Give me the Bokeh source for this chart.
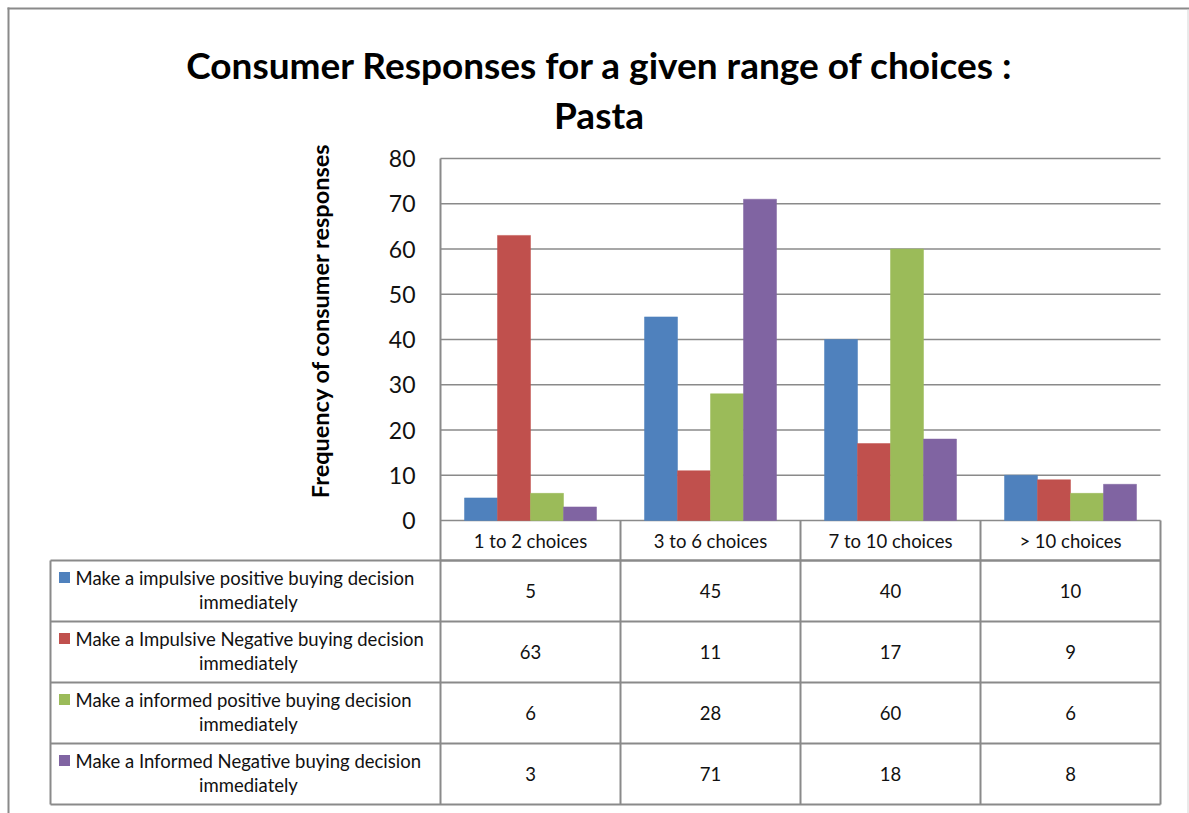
import math
from bokeh.plotting import figure
from bokeh.models import Range1d, ColumnDataSource
from bokeh.core.properties import value
from bokeh.embed import file_html
from bokeh.resources import INLINE

# ---------------- data ----------------
title_lines = ["Consumer Responses for a given range of choices :", "Pasta"]
y_axis_title = "Frequency of consumer responses"
categories = ["1 to 2 choices", "3 to 6 choices", "7 to 10 choices", "> 10 choices"]
series_names = [
    ("Make a impulsive positive buying decision", "immediately"),
    ("Make a Impulsive  Negative buying decision", "immediately"),
    ("Make a informed  positive buying decision", "immediately"),
    ("Make a Informed  Negative buying decision", "immediately"),
]
impulsive_positive = [5, 45, 40, 10]
impulsive_negative = [63, 11, 17, 9]
informed_positive = [6, 28, 60, 6]
informed_negative = [3, 71, 18, 8]
series_values = [impulsive_positive, impulsive_negative, informed_positive, informed_negative]
series_colors = ["#4F81BD", "#C0504D", "#9BBB59", "#8064A2"]
y_ticks = [0, 10, 20, 30, 40, 50, 60, 70, 80]
y_tick_labels = [str(t) for t in y_ticks]

# ---------------- layout geometry (pixels) ----------------
W, H = 1189, 813
PLOT_L, PLOT_R = 440, 1160
PLOT_TOP, ZERO_Y = 158, 520
HEADER_BOTTOM = 560
ROW_H = 61
TABLE_L = 50
FONT = "Lato"
GRID = "#8a8a8a"
TEXT = "#111111"
TABLE_FS = "18.5px"

n_cat = len(categories)
cat_px = (PLOT_R - PLOT_L) / n_cat
val_px = (ZERO_Y - PLOT_TOP) / max(y_ticks)

p = figure(width=W, height=H, output_backend="svg", toolbar_location=None,
           x_axis_type=None, y_axis_type=None,
           x_range=Range1d(0, W), y_range=Range1d(H, 0),
           min_border=0, outline_line_color=None,
           background_fill_color="white", border_fill_color="white")

# library scales for the chart: categories (index units) and values
p.extra_x_ranges = {"cat": Range1d(-PLOT_L / cat_px, (W - PLOT_L) / cat_px)}
p.extra_y_ranges = {"val": Range1d(-(H - ZERO_Y) / val_px, ZERO_Y / val_px)}

# outer chart border
p.segment(x0=[7], y0=[8], x1=[W], y1=[8], line_color="#8a8a8a", line_width=2)
p.segment(x0=[8], y0=[7], x1=[8], y1=[H], line_color="#8a8a8a", line_width=2)
p.segment(x0=[W - 1.5], y0=[9], x1=[W - 1.5], y1=[H], line_color="#d4d4d4", line_width=1)

# title
p.text(x=[W / 2 + 5], y=[64], text=[title_lines[0]], text_font=value(FONT),
       text_font_style="bold", text_font_size="37px", text_align="center",
       text_baseline="alphabetic", text_color="black")
p.text(x=[W / 2 + 4], y=[114], text=[title_lines[1]], text_font=value(FONT),
       text_font_style="bold", text_font_size="37px", text_align="center",
       text_baseline="alphabetic", text_color="black")

# y-axis title
p.text(x=[319], y=[320], text=[y_axis_title], angle=math.pi / 2,
       text_font=value(FONT), text_font_style="bold", text_font_size="23.5px",
       text_align="center", text_baseline="middle", text_color="black")

# gridlines
p.segment(x0=[0] * len(y_ticks), x1=[n_cat] * len(y_ticks), y0=y_ticks, y1=y_ticks,
          line_color=GRID, line_width=1.6, x_range_name="cat", y_range_name="val")

# y tick labels
p.text(x=[-25 / cat_px] * len(y_ticks), y=y_ticks, text=y_tick_labels,
       text_font=value(FONT), text_font_size="23px", text_align="right",
       text_baseline="middle", text_color=TEXT,
       x_range_name="cat", y_range_name="val")

# bars
bar_w = 33 / cat_px
n_ser = len(series_values)
for j, (vals, col) in enumerate(zip(series_values, series_colors)):
    off = (j - (n_ser - 1) / 2) * bar_w
    src = ColumnDataSource(dict(x=[i + 0.5 + off for i in range(n_cat)], top=vals))
    p.vbar(x="x", top="top", bottom=0, width=bar_w, source=src,
           fill_color=col, line_color=col, line_width=0.5,
           x_range_name="cat", y_range_name="val")

# ---------------- data table ----------------
row_tops = [HEADER_BOTTOM + k * ROW_H for k in range(n_ser + 1)]
table_bottom = row_tops[-1]

# vertical lines at category boundaries
p.segment(x0=[0], x1=[0], y0=[PLOT_TOP], y1=[table_bottom],
          line_color=GRID, line_width=2, x_range_name="cat")
p.segment(x0=list(range(1, n_cat + 1)), x1=list(range(1, n_cat + 1)),
          y0=[ZERO_Y] * n_cat, y1=[table_bottom] * n_cat,
          line_color=GRID, line_width=2, x_range_name="cat")
# header bottom line
p.segment(x0=[0], x1=[n_cat], y0=[HEADER_BOTTOM], y1=[HEADER_BOTTOM],
          line_color=GRID, line_width=2, x_range_name="cat")
# row lines
p.segment(x0=[TABLE_L] * len(row_tops), x1=[PLOT_R] * len(row_tops),
          y0=row_tops, y1=row_tops, line_color=GRID, line_width=2)
# legend column left border
p.segment(x0=[TABLE_L], x1=[TABLE_L], y0=[HEADER_BOTTOM], y1=[table_bottom],
          line_color=GRID, line_width=2)

# header category labels
p.text(x=[i + 0.5 for i in range(n_cat)], y=[(ZERO_Y + HEADER_BOTTOM) / 2] * n_cat,
       text=categories, text_font=value(FONT), text_font_size=TABLE_FS,
       text_align="center", text_baseline="middle", text_color=TEXT,
       x_range_name="cat")

# values in table
for k, vals in enumerate(series_values):
    yc = row_tops[k] + ROW_H / 2
    p.text(x=[i + 0.5 for i in range(n_cat)], y=[yc] * n_cat,
           text=[str(v) for v in vals], text_font=value(FONT), text_font_size=TABLE_FS,
           text_align="center", text_baseline="middle", text_color=TEXT,
           x_range_name="cat")

# legend keys and series names
for k, ((l1, l2), col) in enumerate(zip(series_names, series_colors)):
    top = row_tops[k]
    p.rect(x=[64], y=[top + 17], width=11, height=11, fill_color=col, line_color=None)
    p.text(x=[75], y=[top + 17], text=[l1], text_font=value(FONT), text_font_size=TABLE_FS,
           text_align="left", text_baseline="middle", text_color=TEXT)
    p.text(x=[248], y=[top + 41], text=[l2], text_font=value(FONT), text_font_size=TABLE_FS,
           text_align="center", text_baseline="middle", text_color=TEXT)

open("out.html", "w").write(file_html(p, INLINE))
